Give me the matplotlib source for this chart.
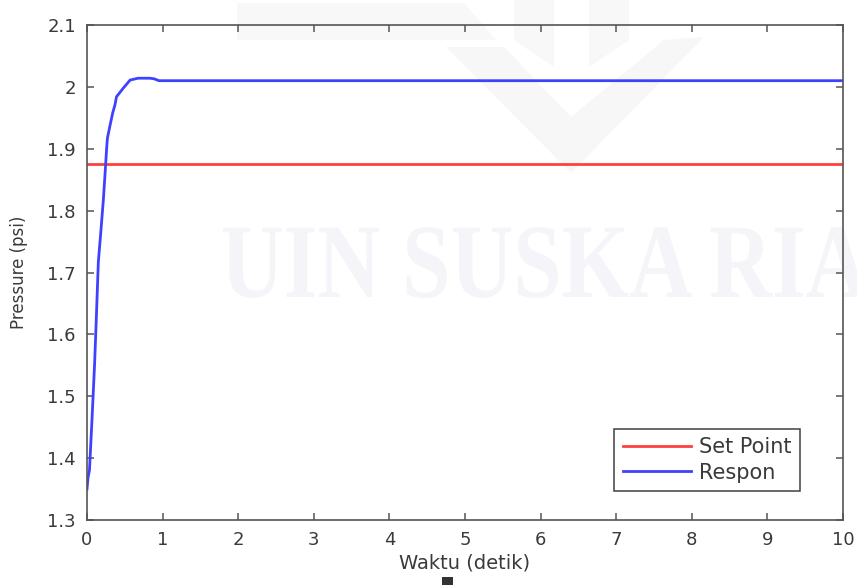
import numpy as np
import matplotlib
matplotlib.use("Agg")
import matplotlib.pyplot as plt
from matplotlib.textpath import TextPath
from matplotlib.font_manager import FontProperties
from matplotlib.patches import PathPatch, Polygon, Rectangle
from matplotlib.transforms import Affine2D

# pressure response (psi) against time (detik)
t_resp = [0, 0.013, 0.033, 0.066, 0.10, 0.12, 0.15, 0.185, 0.216, 0.238, 0.26,
          0.27, 0.30, 0.34, 0.37, 0.39, 0.48, 0.57, 0.675, 0.83, 0.89, 0.95, 10]
p_resp = [1.350, 1.368, 1.381, 1.462, 1.551, 1.615, 1.717, 1.769, 1.817, 1.858, 1.901,
          1.917, 1.935, 1.958, 1.971, 1.984, 1.998, 2.011, 2.014, 2.014, 2.013, 2.010, 2.010]

t_sp = [0, 10]
p_sp = [1.875, 1.875]

xticks = np.arange(0, 11, 1)
yticks = [1.3, 1.4, 1.5, 1.6, 1.7, 1.8, 1.9, 2.0, 2.1]
yticklabels = ['1.3', '1.4', '1.5', '1.6', '1.7', '1.8', '1.9', '2', '2.1']

W, H = 857, 585
fig = plt.figure(figsize=(W / 100, H / 100), dpi=100)
fig.patch.set_facecolor('white')

# faint background watermark (figure pixel coords, y measured from top)
def px(x, y):
    return (x, H - y)

shapes = [
    ([(237, 3), (464, 3), (496, 40), (237, 40)], '#f8f8f8'),
    ([(446, 47), (504, 47), (571, 117), (664, 40), (704, 37), (571, 173)], '#f7f7f7'),
    ([(514, 0), (554, 0), (554, 67), (514, 40)], '#f8f8f8'),
    ([(589, 0), (629, 0), (629, 40), (589, 67)], '#f8f8f8'),
]
for pts, col in shapes:
    fig.add_artist(Polygon([px(x, y) for x, y in pts], closed=True, transform=None,
                           facecolor=col, edgecolor='none', zorder=0))

tp = TextPath((0, 0), 'UIN SUSKA RIA', size=100,
              prop=FontProperties(family='Liberation Serif', weight='bold'))
bb = tp.get_extents()
sy = 70 / 66.2
sx = 645 / bb.width
tr = Affine2D().translate(-bb.x0, 0).scale(sx, sy).translate(223, H - 297)
fig.add_artist(PathPatch(tr.transform_path(tp), transform=None,
                         facecolor='#f5f5f9', edgecolor='none', zorder=0))

# small dark mark under the x label
fig.add_artist(Rectangle((442, H - 585), 11, 8, transform=None,
                         facecolor='#333333', edgecolor='none', zorder=0))

ax = fig.add_axes([87 / W, 1 - 520 / H, (843 - 87) / W, (520 - 25) / H])
ax.set_zorder(1)
ax.patch.set_visible(False)

ax.plot(t_sp, p_sp, color='#ff4040', lw=2.0, label='Set Point')
ax.plot(t_resp, p_resp, color='#4040ff', lw=2.0, label='Respon')

ax.set_xlim(0, 10)
ax.set_ylim(1.3, 2.1)
ax.set_xticks(xticks)
ax.set_yticks(yticks)
ax.set_yticklabels(yticklabels)

txt = '#3a3a3a'
for s in ax.spines.values():
    s.set_color('#555555')
    s.set_linewidth(1.2)
ax.tick_params(direction='in', length=5, width=1.1, color='#555555',
               top=True, right=True, labelsize=13, labelcolor=txt)
ax.tick_params(axis='x', pad=8)
ax.tick_params(axis='y', pad=8)

ax.set_xlabel('Waktu (detik)', fontsize=14, color=txt)
ax.set_ylabel('Pressure (psi)', fontsize=12, color=txt)
ax.xaxis.set_label_coords(0.5, -43 / 495)
ax.xaxis.label.set_va('center')
ax.yaxis.set_label_coords(-68 / 756, 0.5)
ax.yaxis.label.set_va('center')

leg = ax.legend(loc='lower right', bbox_to_anchor=((800 - 87) / 756, 29 / 495),
                borderaxespad=0, fontsize=15, frameon=True, fancybox=False,
                framealpha=1, edgecolor='#404040', handlelength=3.3,
                handletextpad=0.38, borderpad=0.4, labelspacing=0.25)
leg.get_frame().set_linewidth(1.1)
for t in leg.get_texts():
    t.set_color(txt)

fig.savefig('out.png', dpi=100)
